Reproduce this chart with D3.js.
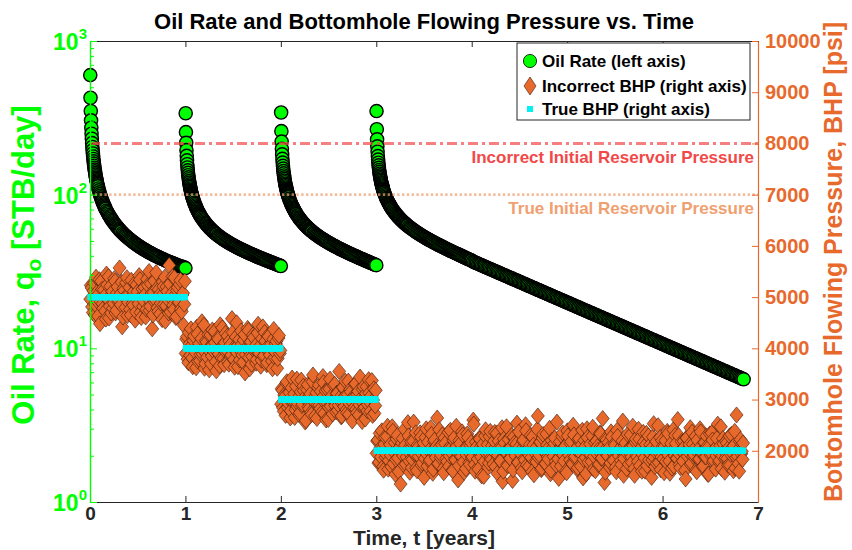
<!DOCTYPE html>
<html>
<head>
<meta charset="utf-8">
<script src="https://cdn.jsdelivr.net/npm/d3@7"></script>
<style>
  body { margin: 0; background: #fff; }
  svg { display: block; }
  text { font-family: "Liberation Sans", Arial, Helvetica, sans-serif; font-weight: bold; }
</style>
</head>
<body>
<svg id="chart" width="852" height="550"></svg>
<script>
// ---- Data -------------------------------------------------------------
// Start day of each production period (BHP step schedule)
const segmentStartDays = [0, 365, 730, 1095];
const trueBHP = [5000, 4000, 3000, 2000];

// Days since the start of each period at which oil rate is reported
const rateOffsetDays = [
  1,2,3,4,5,6,7,8,9,10,11,12,13,14,15,16,17,18,19,20,21,22,23,24,25,26,27,28,29,30,
  32,34,36,38,40,42,44,46,48,50,52,54,56,58,60,
  63,66,69,72,75,78,81,84,87,90,93,96,99,102,105,108,111,114,117,120,
  125,129,133,137,141,145,149,153,157,161,165,169,173,177,181,185,189,193,197,201,
  205,209,213,217,221,225,229,233,237,241,245,249,253,257,261,265,269,273,277,281,
  285,289,293,297,301,305,309,313,317,321,325,329,333,337,341,345,349,353,357,361,365,
  370,375,380,385,390,395,400,405,410,415,420,425,430,435,440,445,450,455,460,465,
  470,475,480,485,490,495,500,505,510,515,520,525,530,535,540,545,550,555,560,565,
  570,575,580,585,590,595,600,605,610,615,620,625,630,635,640,645,650,655,660,665,
  670,675,680,685,690,695,700,705,710,715,720,725,730,735,740,745,750,755,760,765,
  770,775,780,785,790,795,800,805,810,815,820,825,830,835,840,845,850,855,860,865,
  870,875,880,885,890,895,900,905,910,915,920,925,930,935,940,945,950,955,960,965,
  970,975,980,985,990,995,1000,1005,1010,1015,1020,1025,1030,1035,1040,1045,1050,1055,1060,1065,
  1070,1075,1080,1085,1090,1095,1100,1105,1110,1115,1120,1125,1130,1135,1140,1145,1150,1155,1160,1165,
  1170,1175,1180,1185,1190,1195,1200,1205,1210,1215,1220,1225,1230,1235,1240,1245,1250,1255,1260,1265,
  1270,1275,1280,1285,1290,1295,1300,1305,1310,1315,1320,1325,1330,1335,1340,1345,1350,1355,1360,1365,
  1370,1375,1380,1385,1390,1395,1400,1405
];

// Oil rate, STB/day, for each period
const rateSeg1 = [
  600,427.2,350.3,304.2,272.7,249.3,231.3,216.6,204.4,194.2,185.3,177.6,170.8,164.7,159.2,154.2,149.7,145.6,141.8,138.3,
  135.0,131.9,129.1,126.4,123.9,121.6,119.4,117.2,115.2,113.3,
  109.8,106.6,103.6,100.9,98.4,96.1,93.97,91.9,90.0,88.2,86.5,84.98,83.5,82.0,80.7,
  78.8,77.0,75.4,73.8,72.3,71.0,69.7,68.4,67.3,66.2,65.1,64.1,63.1,62.2,61.4,60.5,59.7,58.9,58.2,57.4,
  56.3,55.4,54.6,53.8,53.1,52.4,51.7,51.0,50.4,49.8,49.2,48.6,48.0,47.5,47.0,46.5,46.0,45.5,45.1,44.6,
  44.2,43.8,43.4,43.0,42.6,42.2,41.9,41.5,41.2,40.8,40.5,40.2,39.9,39.6,39.3,39.0,38.7,38.4,38.1,37.9,
  37.6,37.3,37.1,36.8,36.6,36.4,36.1,35.9,35.7,35.5,35.3,35.0,34.8,34.6,34.4,34.2,34.05,33.9,33.7,33.5,33.3
];
const rateSeg2 = [
  338.6,255.2,217.6,194.9,179.0,167.1,157.9,150.3,144.0,138.6,133.8,129.7,126.0,122.6,119.6,116.8,114.3,111.9,109.7,107.7,
  105.8,104.0,102.4,100.8,99.27,97.87,96.54,95.22,94.01,92.85,
  90.66,88.66,86.78,85.06,83.45,81.94,80.54,79.20,77.95,76.76,75.62,74.58,73.57,72.58,71.66,
  70.35,69.11,67.97,66.87,65.83,64.87,63.95,63.06,62.24,61.44,60.67,59.95,59.23,58.57,57.93,57.31,56.73,56.15,55.60,55.06,
  54.21,53.56,52.95,52.35,51.79,51.24,50.70,50.19,49.69,49.21,48.75,48.30,47.85,47.43,47.02,46.62,46.23,45.85,45.48,45.10,
  44.75,44.40,44.06,43.73,43.40,43.08,42.76,42.46,42.15,41.85,41.56,41.27,40.99,40.71,40.43,40.16,39.90,39.63,39.36,39.11,
  38.85,38.60,38.36,38.11,37.87,37.62,37.39,37.16,36.93,36.70,36.47,36.25,36.02,35.81,35.57,35.36,35.14,34.93,34.73,34.52,34.31
];
const rateSeg3 = [
  342.5,259.1,221.4,198.7,182.8,170.9,161.7,154.1,147.7,142.3,137.6,133.4,129.7,126.3,123.3,120.5,117.9,115.6,113.4,111.3,
  109.4,107.6,105.9,104.3,102.8,101.4,100.1,98.73,97.50,96.32,
  94.12,92.08,90.18,88.44,86.80,85.26,83.83,82.47,81.19,79.97,78.81,77.75,76.71,75.69,74.75,
  73.40,72.13,70.95,69.81,68.74,67.74,66.79,65.86,65.00,64.16,63.36,62.60,61.85,61.16,60.49,59.83,59.22,58.61,58.02,57.45,
  56.54,55.86,55.20,54.56,53.96,53.37,52.79,52.24,51.70,51.18,50.68,50.19,49.71,49.24,48.80,48.36,47.93,47.52,47.11,46.70,
  46.32,45.93,45.56,45.19,44.83,44.48,44.13,43.79,43.45,43.11,42.79,42.48,42.17,41.85,41.54,41.24,40.95,40.66,40.36,40.08,
  39.79,39.51,39.24,38.96,38.69,38.42,38.16,37.91,37.65,37.40,37.14,36.89,36.64,36.40,36.15,35.91,35.67,35.43,35.20,34.97,34.75
];
const rateSeg4 = [
  350.0,266.6,228.9,206.1,190.2,178.3,169.1,161.5,155.1,149.6,144.8,140.7,136.9,133.5,130.5,127.6,125.1,122.7,120.5,118.4,
  116.5,114.7,113.0,111.3,109.8,108.4,107.0,105.7,104.4,103.2,
  101.0,98.91,96.97,95.19,93.51,91.94,90.47,89.07,87.76,86.50,85.31,84.20,83.13,82.08,81.09,
  79.70,78.37,77.14,75.94,74.82,73.78,72.77,71.79,70.88,69.99,69.14,68.33,67.53,66.79,66.07,65.37,64.71,64.05,63.42,62.80,
  61.81,61.06,60.35,59.64,58.98,58.34,57.70,57.09,56.50,55.92,55.36,54.82,54.28,53.76,53.26,52.77,52.29,51.82,51.36,50.90,
  50.47,50.03,49.61,49.19,48.78,48.38,47.98,47.59,47.21,46.83,46.45,46.10,45.74,45.38,45.02,44.68,44.35,44.01,43.67,43.34,
  43.01,42.70,42.38,42.07,41.75,41.44,41.15,40.85,40.55,40.26,39.97,39.68,39.39,39.12,38.82,38.55,38.27,38.00,37.74,37.47,37.21,
  36.68,36.37,36.06,35.75,35.45,35.15,34.85,34.56,34.26,33.97,33.68,33.40,33.11,32.83,32.56,32.28,32.01,31.73,31.46,31.20,
  30.93,30.67,30.41,30.15,29.90,29.64,29.39,29.14,28.89,28.65,28.41,28.17,27.93,27.69,27.46,27.22,26.99,26.76,26.54,26.31,
  26.09,25.87,25.65,25.43,25.21,25.00,24.79,24.58,24.37,24.16,23.96,23.75,23.55,23.35,23.15,22.96,22.76,22.57,22.38,22.19,
  22.00,21.81,21.63,21.44,21.26,21.08,20.90,20.73,20.55,20.38,20.20,20.03,19.86,19.69,19.53,19.36,19.20,19.03,18.87,18.71,
  18.55,18.40,18.24,18.08,17.93,17.78,17.63,17.48,17.33,17.18,17.04,16.89,16.75,16.61,16.47,16.33,16.19,16.05,15.92,15.78,
  15.65,15.51,15.38,15.25,15.12,14.99,14.87,14.74,14.62,14.49,14.37,14.25,14.13,14.01,13.89,13.77,13.65,13.54,13.42,13.31,
  13.20,13.08,12.97,12.86,12.75,12.65,12.54,12.43,12.33,12.22,12.12,12.02,11.91,11.81,11.71,11.61,11.51,11.42,11.32,11.22,
  11.13,11.03,10.94,10.85,10.76,10.66,10.57,10.48,10.39,10.31,10.22,10.13,10.05,9.961,9.877,9.793,9.710,9.627,9.546,9.465,
  9.385,9.305,9.226,9.148,9.071,8.994,8.917,8.842,8.767,8.692,8.618,8.545,8.472,8.401,8.329,8.259,8.189,8.119,8.050,7.982,
  7.914,7.847,7.780,7.714,7.649,7.584,7.520,7.456,7.393,7.330,7.268,7.206,7.145,7.085,7.024,6.965,6.906,6.847,6.789,6.731,
  6.675,6.618,6.562,6.507,6.451,6.397,6.342,6.288
];

// Days since the start of each period at which BHP is gauged
const bhpOffsetDays = [
  1,3,6,8,11,13,16,18,21,23,26,28,31,33,36,38,41,43,46,48,
  51,53,56,58,61,63,66,68,71,73,76,78,81,83,86,88,91,93,96,98,
  101,103,106,108,111,113,116,118,121,123,126,128,131,133,136,138,141,143,146,148,
  151,153,156,158,161,163,166,168,171,173,176,178,181,183,186,188,191,193,196,198,
  201,203,206,208,211,213,216,218,221,223,226,228,231,233,236,238,241,243,246,248,
  251,253,256,258,261,263,266,268,271,273,276,278,281,283,286,288,291,293,296,298,
  301,303,306,308,311,313,316,318,321,323,326,328,331,333,336,338,341,343,346,348,
  351,353,356,358,361,363,366,368,371,373,376,378,381,383,386,388,391,393,396,398,
  401,403,406,408,411,413,416,418,421,423,426,428,431,433,436,438,441,443,446,448,
  451,453,456,458,461,463,466,468,471,473,476,478,481,483,486,488,491,493,496,498,
  501,503,506,508,511,513,516,518,521,523,526,528,531,533,536,538,541,543,546,548,
  551,553,556,558,561,563,566,568,571,573,576,578,581,583,586,588,591,593,596,598,
  601,603,606,608,611,613,616,618,621,623,626,628,631,633,636,638,641,643,646,648,
  651,653,656,658,661,663,666,668,671,673,676,678,681,683,686,688,691,693,696,698,
  701,703,706,708,711,713,716,718,721,723,726,728,731,733,736,738,741,743,746,748,
  751,753,756,758,761,763,766,768,771,773,776,778,781,783,786,788,791,793,796,798,
  801,803,806,808,811,813,816,818,821,823,826,828,831,833,836,838,841,843,846,848,
  851,853,856,858,861,863,866,868,871,873,876,878,881,883,886,888,891,893,896,898,
  901,903,906,908,911,913,916,918,921,923,926,928,931,933,936,938,941,943,946,948,
  951,953,956,958,961,963,966,968,971,973,976,978,981,983,986,988,991,993,996,998,
  1001,1003,1006,1008,1011,1013,1016,1018,1021,1023,1026,1028,1031,1033,1036,1038,1041,1043,1046,1048,
  1051,1053,1056,1058,1061,1063,1066,1068,1071,1073,1076,1078,1081,1083,1086,1088,1091,1093,1096,1098,
  1101,1103,1106,1108,1111,1113,1116,1118,1121,1123,1126,1128,1131,1133,1136,1138,1141,1143,1146,1148,
  1151,1153,1156,1158,1161,1163,1166,1168,1171,1173,1176,1178,1181,1183,1186,1188,1191,1193,1196,1198,
  1201,1203,1206,1208,1211,1213,1216,1218,1221,1223,1226,1228,1231,1233,1236,1238,1241,1243,1246,1248,
  1251,1253,1256,1258,1261,1263,1266,1268,1271,1273,1276,1278,1281,1283,1286,1288,1291,1293,1296,1298,
  1301,1303,1306,1308,1311,1313,1316,1318,1321,1323,1326,1328,1331,1333,1336,1338,1341,1343,1346,1348,
  1351,1353,1356,1358,1361,1363,1366,1368,1371,1373,1376,1378,1381,1383,1386,1388,1391,1393,1396,1398,
  1401,1403
];

// Gauged (incorrect) BHP, psi, for each period
const incorrectBHP1 = [
  4960,5230,5180,4810,4700,5120,5270,4650,4850,5390,5090,4920,4630,5060,5340,4480,4910,5310,5150,4870,
  4780,5140,5020,4730,4570,5450,5240,4960,5400,4590,4820,5210,4690,5020,5110,4780,4880,5360,5310,4690,
  4740,5080,5200,4910,4930,5570,5060,4850,5290,4420,4610,5170,5130,4990,4800,5280,5380,4640,4900,5050,
  5190,4760,4650,5330,5020,4880,4840,5110,5270,4550,4710,5240,5100,4930,4870,5420,5340,4700,4600,5010,
  5160,4820,4920,5190,5050,4610,4760,5350,5230,4970,5500,4740,4820,5260,5080,4380,4650,5090,5320,4900,
  4940,5480,5170,4790,4720,5150,5050,4670,4880,5020,4560,5300,5210,4860,5390,4530,4830,5200,5110,4950,
  4690,5620,5260,4710,4970,5070,5400,4840,4760,5380,5040,4600,4620,5130,5190,4890,4900,5250,5330,4770,
  4720,5040,5080,4450,4860,5310
];
const incorrectBHP2 = [
  3900,4180,4230,3790,3720,4310,4090,3860,4380,4050,3810,3640,4150,4240,3960,3920,3620,4410,4280,3750,
  4040,4090,3760,3880,4190,4520,3890,3970,4450,3610,3700,4150,4120,3830,3980,4270,3580,4020,4260,3700,
  3850,4360,4070,3940,4330,4110,3740,3560,3930,4200,4180,3890,3660,4460,4020,3810,4400,4030,3800,3680,
  4110,4290,3920,3960,4240,3740,3690,4140,4060,3850,3870,4580,4310,4000,3780,3630,4000,4220,4500,3910,
  3640,4070,4170,3770,3950,4340,4080,3870,3730,4160,4270,3520,3880,4010,3990,4390,4350,3820,3600,4120,
  4130,3690,3840,4260,4210,3950,3970,4050,3710,3780,4300,4470,3910,3900,4050,3650,3770,4190,4420,3840,
  3860,4310,4140,3990,3680,3720,4250,4230,3940,3870,4030,4080,3750,3600,4180,4370,3820,3930,4090,4140,
  3610,3800,4200,4250,3900,3960
];
const incorrectBHP3 = [
  2910,3210,3180,2840,2770,3090,3060,2690,3320,3350,2850,2930,3010,3140,2640,2780,3230,3420,2950,2980,
  3110,2650,2800,3260,3400,2870,2920,3050,2700,2740,3150,3380,2880,2910,3260,3170,3040,2560,2590,3000,
  3190,3290,2860,2820,3070,3110,2750,2710,3350,3480,2970,2950,2680,3070,3130,2630,2900,3230,3280,2890,
  2820,3160,3020,2760,3450,3330,2730,2940,3170,2600,2940,3190,2610,2850,3210,3400,2870,3020,3080,2720,
  2990,3270,3300,2880,2760,3120,3120,2790,2890,3550,3040,2960,2660,2680,3240,3240,2930,2860,3360,3080,
  2800,2740,3100,3360,2710,2920,3200,3150,2960,2580,3050,3030,2840,3300,3310,2810,2740,3100,3160,2700,
  2900,3440,3020,2970,2570,3200,3250,2830,2850,2620,3120,3250,2780,2900,3390,3130,2940,2770,3080,3370,
  2690,2990,3210,2730,2880,3180
];
const incorrectBHP4 = [
  1950,2190,2210,1760,1780,2340,2060,1880,2390,2050,1690,1620,2130,2270,1870,1930,2280,2480,1640,1810,
  2020,2120,1910,1690,2470,2380,1750,1970,2160,1540,1830,2230,2300,1860,1590,2060,2080,1350,1960,2150,
  2240,1900,1720,2420,2110,1740,1880,2010,2550,2290,1800,1580,2040,2180,1670,1830,2190,2560,1930,1950,
  2350,1660,1610,2110,2070,1890,1990,2350,2270,1720,1760,2030,2150,1480,1850,2260,2430,1940,1700,2170,
  2000,1800,1820,2450,2320,1990,1560,1640,2180,2210,1940,1870,2090,2640,1740,1750,2410,2080,1870,1920,
  2120,2310,1650,1570,2250,2140,1980,1850,1790,2020,2360,1700,1900,2400,2050,1960,1620,1610,2200,2250,
  1840,1820,2480,2090,1960,1430,1710,2200,2140,1910,1890,2370,2310,1780,1580,2040,2030,1650,1920,2330,
  2260,1980,1770,1730,2100,2160,1860,1880,2600,2520,1730,1600,2170,2070,1990,1840,1640,2240,2230,1950,
  1880,1510,2050,2130,1500,1790,2290,2410,1950,2000,2120,1680,1760,2280,2380,1860,1830,2100,2010,1740,
  2190,2360,1690,1930,2340,1560,1910,2190,2060,1810,1800,2060,2450,1400,1600,2230,2150,1970,1970,2470,
  1730,1710,2220,2010,1860,1850,2080,2300,1420,1630,2270,2150,1940,1900,2130,2540,1780,1770,2370,2080,
  2000,1940,1660,1590,2190,2210,1850,1820,2510,2390,1720,1960,2040,1690,1900,2120,2300,1870,1590,2270,
  2110,1530,1960,2040,1810,1780,2420,2680,1870,1920,2160,2170,1630,1660,2250,2320,1990,1990,1750,1750,
  2330,2110,1880,1840,2070,2440,1550,1620,2200,2050,1930,1890,2140,2250,1790,1720,2560,2000,1840,1460,
  2020,2180,1700,1950,2280,2350,1910,1800,2090,2090,1610,1570,2390,2290,1980,1910,1820,2140,2180,1760,
  1740,2500,2310,1870,1890,2030,2050,1640,1670,2220,2240,1980,1950,1700,2120,2400,1470,1830,2200,2070,
  1870,1550,2430,2260,1780,1940,2010,2130,1920,1790,2290,2460,1640,1890,2160,1610,1960,2190,2080,2010,
  1720,1740,2350,2330,1850,1860,2630,2080,1990,1380,1580,2240,2210,1920,1900,2160,2060,1680,1760,2370,
  2270,1970,1830,1810,2140,2110,1680,1590,2400,2280,1940,1900,2030,2050,1810,1730,2190,2580,1520,1850,
  2100,2150,1970,1650,2320,2020,1740,1960,2050,2310,1880,1770,2480,2100,1650,1520,2170,2230,1910,1880,
  1790,2420,2230,1710,2000,2060,1600,1930,2360,2170,1860,1600,2120,2340,1710,1990,2290,1820,1950,2120,
  2040,1480,1820,2270,2530,1870,1690,2030,2180,1750,1930,2490,1770,1950,2260,1630,1880,2200,2090,1840,
  1570,2090,2200,1790,1960,2380,2340,1910,1800,1560,2070,2140,1660,2000,2410,1700,1900,2300,2140,1860,
  1850,2610,2300,1940,1730,1670,2010,2180,1980,1800,2190,2070,1620,1450,2250,2250,1890,1980,2060,2120,
  2450,1730,1760,2360,2130,1890,1920,2040,2280,1620,1590,2210,2020,1830,1840,2430,2370,1960,1970,1690,
  1700,2160,2160,1880,1880,2290,2090,1540,1540,2080,2330,1920,1950,2350,2210,1780,1810,2020,2040,1640,
  1900,2240,2520,1970,1780,1810,2100,2470,1650,1900,2240,2130,1990,1580,1860,2190,2150,1850,1720,2060,
  2290,1720,1930,2320,2060,1950,1610,2100,2380,1660,1870,2700,2000,1890,1750,1600,2180,2220,1940,1990,
  1830,2150
];

// Initial reservoir pressure reference lines
const refLabels = ["Incorrect Initial Reservoir Pressure", "True Initial Reservoir Pressure"];
const refValues = [8000, 7000];

// Axis ticks
const timeTicks = [0, 1, 2, 3, 4, 5, 6, 7];
const rateTicks = [1, 10, 100, 1000];
const rateTickExponents = ["0", "1", "2", "3"];
const bhpTicks = [2000, 3000, 4000, 5000, 6000, 7000, 8000, 9000, 10000];

const legendLabels = ["Oil Rate (left axis)", "Incorrect BHP (right axis)", "True BHP (right axis)"];

// ---- Styling ------------------------------------------------------------
const GREEN = "#00ff00";
const ORANGE = "#e8692c";
const CYAN = "#00f2f2";
const DARK = "#262626";
const REF_COLORS = ["#f24848", "#f0a070"];

const box = { left: 90, right: 758, top: 41, bottom: 502 };
const svg = d3.select("#chart");

const x = d3.scaleLinear().domain([0, 7]).range([box.left, box.right]);
const yRate = d3.scaleLog().domain([1, 1000]).range([box.bottom, box.top]);
const yBHP = d3.scaleLinear().domain([1000, 10000]).range([box.bottom, box.top]);

// ---- Assemble points ----------------------------------------------------
const ratePoints = [];
[rateSeg1, rateSeg2, rateSeg3, rateSeg4].forEach((vals, s) => {
  vals.forEach((q, i) => ratePoints.push({ t: (segmentStartDays[s] + rateOffsetDays[i]) / 365, q }));
});
const bhpPoints = [];
[incorrectBHP1, incorrectBHP2, incorrectBHP3, incorrectBHP4].forEach((vals, s) => {
  vals.forEach((p, i) => bhpPoints.push({ t: (segmentStartDays[s] + bhpOffsetDays[i]) / 365, p, truth: trueBHP[s] }));
});

// ---- Marks --------------------------------------------------------------
const marks = svg.append("g");

marks.append("g").selectAll("circle").data(ratePoints).join("circle")
  .attr("cx", d => x(d.t)).attr("cy", d => yRate(d.q)).attr("r", 6.6)
  .attr("fill", GREEN).attr("stroke", "#000").attr("stroke-width", 1.4);

const diamond = "M0,-8L6.5,0L0,8L-6.5,0Z";
marks.append("g").selectAll("path").data(bhpPoints).join("path")
  .attr("d", diamond)
  .attr("transform", d => `translate(${x(d.t)},${yBHP(d.p)})`)
  .attr("fill", ORANGE).attr("stroke", "#3a1a0a").attr("stroke-width", 0.6);

marks.append("g").selectAll("rect").data(bhpPoints).join("rect")
  .attr("x", d => x(d.t) - 3).attr("y", d => yBHP(d.truth) - 3)
  .attr("width", 6).attr("height", 6).attr("fill", CYAN);

// Reference lines with labels
const refG = svg.append("g");
refValues.forEach((v, i) => {
  refG.append("line")
    .attr("x1", box.left).attr("x2", box.right)
    .attr("y1", yBHP(v)).attr("y2", yBHP(v))
    .attr("stroke", REF_COLORS[i]).attr("stroke-opacity", 0.7)
    .attr("stroke-width", i === 0 ? 3 : 2.6)
    .attr("stroke-dasharray", i === 0 ? "10,4,3,4" : "2.4,2.4");
  refG.append("text")
    .attr("x", box.right - 4).attr("y", yBHP(v) + 19.5)
    .attr("text-anchor", "end").attr("font-size", 17)
    .attr("fill", REF_COLORS[i]).text(refLabels[i]);
});

// ---- Axes ---------------------------------------------------------------
function styleAxis(g, color) {
  g.select(".domain").attr("stroke", color).attr("stroke-width", 1.2);
  g.selectAll(".tick line").attr("stroke", color).attr("stroke-width", 1);
  g.selectAll(".tick text").attr("fill", color).attr("font-family", null).attr("font-size", null);
}

const xBottom = svg.append("g").attr("transform", `translate(0,${box.bottom})`)
  .call(d3.axisBottom(x).tickValues(timeTicks).tickFormat(d3.format("d"))
    .tickSizeInner(-6).tickSizeOuter(0).tickPadding(5));
styleAxis(xBottom, DARK);
xBottom.selectAll(".tick text").style("font-size", "19px");

const xTop = svg.append("g").attr("transform", `translate(0,${box.top})`)
  .call(d3.axisTop(x).tickValues(timeTicks).tickFormat("").tickSizeInner(-6).tickSizeOuter(0));
styleAxis(xTop, DARK);

const minorRate = [];
[1, 10, 100].forEach(dec => { for (let k = 2; k <= 9; k++) minorRate.push(dec * k); });
const yLeftMinor = svg.append("g").attr("transform", `translate(${box.left},0)`)
  .call(d3.axisLeft(yRate).tickValues(minorRate).tickFormat("").tickSizeInner(-4).tickSizeOuter(0));
styleAxis(yLeftMinor, GREEN);
const yLeft = svg.append("g").attr("transform", `translate(${box.left},0)`)
  .call(d3.axisLeft(yRate).tickValues(rateTicks).tickFormat("").tickSizeInner(-7).tickSizeOuter(0));
styleAxis(yLeft, GREEN);

// power-of-ten labels
const leftLabels = svg.append("g").attr("fill", GREEN);
rateTicks.forEach((v, i) => {
  const t = leftLabels.append("text")
    .attr("x", box.left - 3).attr("y", yRate(v) + 9)
    .attr("text-anchor", "end").attr("font-size", 23);
  t.append("tspan").text("10");
  t.append("tspan").attr("font-size", 15).attr("dy", -11).text(rateTickExponents[i]);
});

const yRight = svg.append("g").attr("transform", `translate(${box.right},0)`)
  .call(d3.axisRight(yBHP).tickValues(bhpTicks).tickFormat(d3.format("d"))
    .tickSizeInner(-6).tickSizeOuter(0).tickPadding(7));
styleAxis(yRight, ORANGE);
yRight.selectAll(".tick text").style("font-size", "20px");

// ---- Titles -------------------------------------------------------------
svg.append("text").attr("x", (box.left + box.right) / 2).attr("y", 29)
  .attr("text-anchor", "middle").attr("font-size", 22).attr("fill", "#000")
  .text("Oil Rate and Bottomhole Flowing Pressure vs. Time");

svg.append("text").attr("x", (box.left + box.right) / 2).attr("y", 545)
  .attr("text-anchor", "middle").attr("font-size", 21).attr("fill", DARK)
  .text("Time, t [years]");

const leftTitle = svg.append("text")
  .attr("transform", `translate(34,265) rotate(-90)`)
  .attr("text-anchor", "middle").attr("font-size", 31).attr("fill", GREEN);
leftTitle.append("tspan").text("Oil Rate, q");
leftTitle.append("tspan").attr("font-size", 21).attr("dy", 7).text("o");
leftTitle.append("tspan").attr("dy", -7).text(" [STB/day]");

svg.append("text")
  .attr("transform", `translate(842,262) rotate(-90)`)
  .attr("text-anchor", "middle").attr("font-size", 25).attr("fill", ORANGE)
  .text("Bottomhole Flowing Pressure, BHP [psi]");

// ---- Legend -------------------------------------------------------------
const lg = svg.append("g");
lg.append("rect").attr("x", 517).attr("y", 43).attr("width", 233).attr("height", 77)
  .attr("fill", "#fff").attr("stroke", DARK).attr("stroke-width", 1);
const rowY = [61, 86, 109];
lg.append("circle").attr("cx", 530).attr("cy", rowY[0]).attr("r", 6.6)
  .attr("fill", GREEN).attr("stroke", "#000").attr("stroke-width", 0.8);
lg.append("path").attr("d", "M0,-9L6,0L0,9L-6,0Z").attr("transform", `translate(530,${rowY[1]})`)
  .attr("fill", ORANGE).attr("stroke", "#3a1a0a").attr("stroke-width", 0.6);
lg.append("rect").attr("x", 527).attr("y", rowY[2] - 3).attr("width", 6).attr("height", 6).attr("fill", CYAN);
legendLabels.forEach((s, i) => {
  lg.append("text").attr("x", 542).attr("y", rowY[i] + 6).attr("font-size", 17).attr("fill", "#000").text(s);
});
</script>
</body>
</html>
